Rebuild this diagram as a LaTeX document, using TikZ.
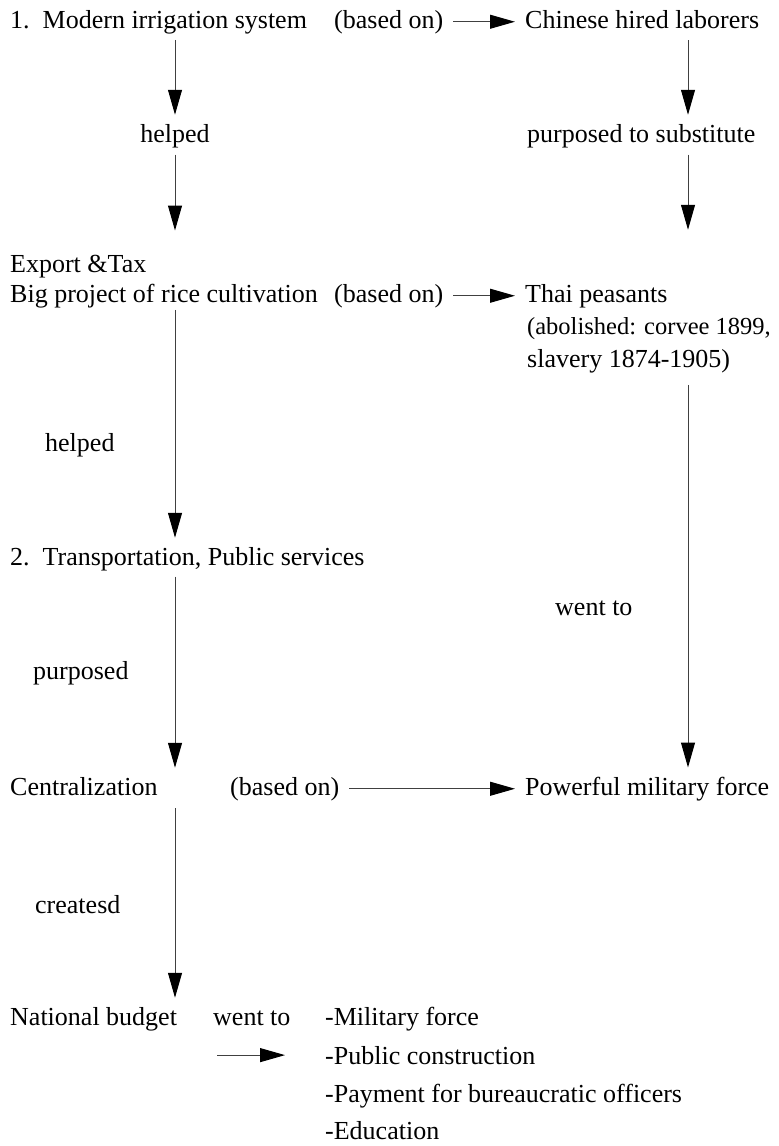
\documentclass[tikz,border=0pt]{standalone}
\usepackage{fontspec}
\setmainfont{Liberation Serif}
\usepackage{tikz}
\usetikzlibrary{
  arrows.meta,
  positioning
}

\begin{document}
\begin{tikzpicture}[
  x=1pt, y=-1pt,
  % Node styles
  txt/.style={
    anchor=base west,
    inner sep=0pt,
    font=\fontsize{26}{30}\selectfont,
  },
  arrow/.style={
    -{Triangle[length=25pt, width=14pt, black]},
    line width=1pt,
    black!75,
  },
]
\useasboundingbox (0,0) rectangle (779,1146);

% ── Column guides ──
\coordinate (lcol) at (175,0);
\coordinate (rcol) at (688,0);

% ── Row 1: Irrigation ──
\node[txt] (irrig) at (10,28) {1.~~Modern irrigation system};
\node[txt] (based1) at (334,28) {(based on)};
\node[txt] (chinese) at (525,28) {Chinese hired laborers};

\node[txt, anchor=base] (helped1) at (175,142) {helped};
\node[txt] (substitute) at (527,142) {purposed to substitute};

% ── Row 2: Rice ──
\node[txt] (export) at (10,272) {Export \&Tax};
\node[txt] (rice) at (10,302) {Big project of rice cultivation};
\node[txt] (based2) at (334,302) {(based on)};
\node[txt] (thai) at (525,302) {Thai peasants};
\node[txt, font=\fontsize{24.5}{30}\selectfont] (abolished) at (527,334) {(abolished: corvee 1899,};
\node[txt] (slavery) at (527,367) {slavery 1874-1905)};

\node[txt] (helped2) at (45,451) {helped};

% ── Row 3: Transportation ──
\node[txt] (transport) at (10,565) {2.~~Transportation, Public services};
\node[txt] (wentto1) at (555,615) {went to};
\node[txt] (purposed) at (33,679) {purposed};

% ── Row 4: Centralization ──
\node[txt] (central) at (10,795) {Centralization};
\node[txt] (based3) at (230,795) {(based on)};
\node[txt] (military) at (525,795) {Powerful military force};

\node[txt] (createsd) at (35,913) {createsd};

% ── Row 5: Budget ──
\node[txt] (budget) at (10,1025) {National budget};
\node[txt] (wentto2) at (213,1025) {went to};
\node[txt] (item1) at (325,1025) {-Military force};
\node[txt] (item2) at (325,1064) {-Public construction};
\node[txt] (item3) at (325,1102) {-Payment for bureaucratic officers};
\node[txt] (item4) at (325,1139) {-Education};

% ── Arrows ──
% Left column
\draw[arrow, shorten <=6pt, shorten >=9pt] (lcol |- irrig.south) -- (helped1.north);
\draw[arrow, shorten <=7pt, shorten >=24pt] (helped1.south) -- (lcol |- export.north);
\draw[arrow, shorten <=2pt, shorten >=9pt] (lcol |- rice.south) -- (lcol |- transport.north);
\draw[arrow, shorten <=6pt, shorten >=9pt] (lcol |- transport.south) -- (lcol |- central.north);
\draw[arrow, shorten <=13pt, shorten >=9pt] (lcol |- central.south) -- (lcol |- budget.north);

% Right column
\draw[arrow, shorten <=12pt, shorten >=9pt] (rcol |- chinese.south) -- (rcol |- substitute.north);
\draw[arrow, shorten <=7pt, shorten >=54pt] (rcol |- substitute.south) -- (rcol |- thai.north);
\draw[arrow, shorten <=12pt, shorten >=9pt] (rcol |- slavery.south) -- (rcol |- military.north);

% (based on) links
\draw[arrow, shorten <=10pt, shorten >=10pt] (based1.east) -- (based1.east -| chinese.west);
\draw[arrow, shorten <=10pt, shorten >=10pt] (based2.east) -- (based2.east -| thai.west);
\draw[arrow, shorten <=10pt, shorten >=10pt] (based3.east) -- (based3.east -| military.west);

% Budget -> items
\draw[arrow, shorten <=4pt, shorten >=40pt] (wentto2.west |- item2.west) -- (item2.west);

\end{tikzpicture}
\end{document}
